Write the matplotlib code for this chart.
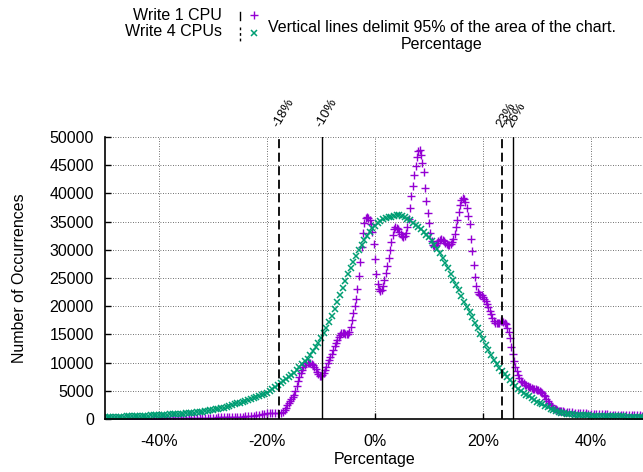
import numpy as np
import matplotlib
matplotlib.use("Agg")
import matplotlib.pyplot as plt
from matplotlib.lines import Line2D
from matplotlib import transforms

plt.rcParams['font.family'] = ['Liberation Sans', 'DejaVu Sans']
plt.rcParams['font.size'] = 11.5

# Write 1 CPU (purple +), three grids: coarse tails, fine centre
one_left = [30, 30, 35, 35, 40, 40, 45, 45, 50, 50,
            55, 55, 60, 60, 65, 65, 70, 70, 75, 80,
            85, 90, 95, 100, 105, 110, 115, 120, 130, 140,
            150, 160, 170, 180, 190, 200, 210, 220, 230, 240,
            250, 260, 270, 285, 300, 315, 330, 345, 360, 380,
            400, 430, 460, 500, 550, 620, 700, 780, 850, 920,
            980, 1020, 1050, 1050, 1050, 1100, 1300]
one_mid = [1600, 2000, 2400, 2800,
           3200, 3600, 3900, 4300,
           5000, 5800, 6700, 7400,
           8100, 8700, 9200, 9600,
           9900, 10000, 10000, 9900,
           9700, 9500, 9200, 8800,
           8400, 8000, 7700, 7600,
           7800, 8200, 8700, 9300,
           9900, 10500, 11000, 11600,
           12200, 12900, 13500, 14000,
           14500, 14900, 15200, 15300,
           15200, 15100, 15000, 15100,
           15500, 16300, 17500, 18800,
           20000, 21200, 23000, 25400,
           27800, 30500, 33000, 34800,
           35700, 35900, 35700, 35200,
           34500, 33200, 31000, 28300,
           25700, 23900, 23000, 22700,
           22900, 23500, 24600, 25900,
           27200, 28600, 29900, 31300,
           32600, 33600, 34000, 33900,
           33600, 33200, 32800, 32500,
           32300, 32400, 33000, 34000,
           35500, 37500, 39500, 41300,
           43200, 44900, 46400, 47500,
           47700, 46800, 45400, 43800,
           41000, 38600, 36500, 34800,
           33000, 31500, 30800, 30600,
           30800, 31200, 31500, 31800,
           31900, 31800, 31500, 31200,
           31000, 30900, 30900, 31000,
           31300, 31900, 32800, 34000,
           35300, 36700, 38000, 38900,
           39200, 39000, 38400, 37500,
           36000, 34500, 32000, 29800,
           27300, 25200, 23500, 22500,
           22100, 22000, 21900, 21700,
           21300, 20900, 20400, 19800,
           19200, 18600, 17900, 17400,
           17100, 17000, 17000, 17100,
           17300, 17300, 17200, 17100,
           16800, 16200, 15500, 14400,
           12800, 11500, 10300, 9300,
           8500, 7800, 7200, 6800,
           6500, 6300, 6100, 6000,
           5900, 5700, 5600, 5500,
           5400, 5300, 5300, 5200,
           5100, 5000, 4800, 4600,
           4300, 4000, 3600, 3200,
           2800, 2500, 2200, 2000,
           1800, 1700, 1600, 1500,
           1450, 1400, 1350, 1300]
one_right = [1250, 1200, 1200, 1150, 1100, 1050, 1000, 1000, 950, 950,
             900, 900, 850, 850, 800, 800, 780, 760, 740, 720,
             700, 690, 680, 670, 660, 650, 640, 630, 620, 610]

# Write 4 CPUs (green x), every 0.5% from -50 to 50
four = [350, 360, 370, 380, 390, 400, 420, 430, 450, 465,
        480, 500, 520, 540, 560, 580, 600, 625, 650, 675,
        700, 725, 755, 785, 815, 845, 875, 905, 935, 965,
        1000, 1040, 1080, 1130, 1180, 1240, 1300, 1370, 1440, 1520,
        1600, 1700, 1800, 1900, 2000, 2150, 2300, 2450, 2600, 2750,
        2900, 3050, 3200, 3350, 3500, 3700, 3900, 4050, 4200, 4400,
        4600, 4950, 5300, 5650, 6000, 6350, 6700, 7100, 7500, 7850,
        8200, 8700, 9200, 9700, 10200, 10700, 11300, 12000, 12700, 13500,
        14400, 15300, 16200, 17200, 18300, 19500, 20800, 22000, 23300, 24500,
        25700, 26800, 27900, 28900, 29900, 30800, 31700, 32500, 33200, 33800,
        34300, 34800, 35100, 35400, 35600, 35800, 35900, 36000, 36100, 36100,
        36000, 35800, 35500, 35200, 34800, 34400, 34000, 33600, 33200, 32700,
        32200, 31500, 30800, 30100, 29400, 28500, 27600, 26700, 25700, 24700,
        23700, 22800, 21800, 20800, 19800, 18900, 18000, 17000, 16100, 15100,
        14200, 13200, 12200, 11300, 10500, 9800, 9100, 8500, 8000, 7400,
        6900, 6400, 5900, 5400, 5000, 4600, 4300, 4000, 3700, 3400,
        3100, 2850, 2600, 2350, 2100, 1850, 1600, 1400, 1200, 1100,
        1000, 920, 850, 800, 760, 730, 700, 680, 660, 640,
        620, 600, 580, 560, 540, 520, 500, 490, 480, 470,
        460, 455, 450, 440, 430, 425, 420, 415, 410, 405,
        400]

# 95% limits
lim_1cpu = [-9.8, 25.6]
lim_4cpu = [-17.7, 23.6]
lim_labels = {-17.7: '-18%', -9.8: '-10%', 23.6: '23%', 25.6: '26%'}

x_one = np.concatenate([np.arange(-50, -16.9, 0.5),
                        np.arange(-16.75, 35.01, 0.25),
                        np.arange(35.5, 50.01, 0.5)])
y_one = np.array(one_left + one_mid + one_right)
x_four = np.arange(-50, 50.01, 0.5)
y_four = np.array(four)

W, H = 643, 472
fig = plt.figure(figsize=(W / 100, H / 100), dpi=100)
ax = fig.add_axes([105 / W, 53 / H, 540 / W, 282 / H])

purple = '#9400D3'
green = '#009E73'

ax.plot(x_one, y_one, linestyle='none', marker='+', ms=5.5, mew=1.0, color=purple)
ax.plot(x_four, y_four, linestyle='none', marker='x', ms=5, mew=1.1, color=green)

for v in lim_1cpu:
    ax.axvline(v, color='black', lw=1.0)
for v in lim_4cpu:
    ax.axvline(v, color='black', lw=1.3, linestyle=(0, (5, 2.5)))

lab_tr = transforms.offset_copy(
    transforms.blended_transform_factory(ax.transData, ax.transAxes),
    fig=fig, x=2, y=8, units='dots')
for v, s in lim_labels.items():
    ax.text(v, 1.0, s, transform=lab_tr, rotation=60, rotation_mode='anchor',
            ha='left', va='bottom', fontsize=9.5)

ax.set_xlim(-50, 50)
ax.set_ylim(0, 50000)
ax.set_xticks([-40, -20, 0, 20, 40])
ax.set_xticklabels(['-40%', '-20%', '0%', '20%', '40%'])
ax.set_yticks(np.arange(0, 50001, 5000))
ax.tick_params(direction='in', length=4, width=1)
ax.tick_params(axis='x', pad=11)
ax.tick_params(axis='y', pad=8)
ax.spines['top'].set_visible(False)
ax.spines['right'].set_visible(False)
ax.spines['left'].set_linewidth(1.2)
ax.spines['bottom'].set_linewidth(1.2)
ax.grid(True, color='black', linestyle=(0, (1, 2)), linewidth=0.6, alpha=0.75)
ax.set_axisbelow(True)
ax.set_xlabel('Percentage', labelpad=2)
ax.set_ylabel('Number of Occurrences', labelpad=16)


def fx(px):
    return px / W


def fy(py):
    return 1 - py / H


fig.text(fx(222), fy(16), 'Write 1 CPU', ha='right', va='center')
fig.text(fx(222), fy(32), 'Write 4 CPUs', ha='right', va='center')
fig.add_artist(Line2D([fx(240), fx(240)], [fy(12), fy(20)], transform=fig.transFigure,
                      color='black', lw=1.0))
fig.add_artist(Line2D([fx(240), fx(240)], [fy(27), fy(41)], transform=fig.transFigure,
                      color='black', lw=1.0, linestyle=(0, (2, 2))))
fig.add_artist(Line2D([fx(254)], [fy(15)], transform=fig.transFigure, marker='+',
                      ms=5.5, mew=1.0, color=purple, linestyle='none'))
fig.add_artist(Line2D([fx(254)], [fy(33)], transform=fig.transFigure, marker='x',
                      ms=5, mew=1.1, color=green, linestyle='none'))
fig.text(fx(442), fy(28), 'Vertical lines delimit 95% of the area of the chart.',
         ha='center', va='center')
fig.text(fx(442), fy(44), 'Percentage', ha='center', va='center')

fig.savefig('out.png', dpi=100)
